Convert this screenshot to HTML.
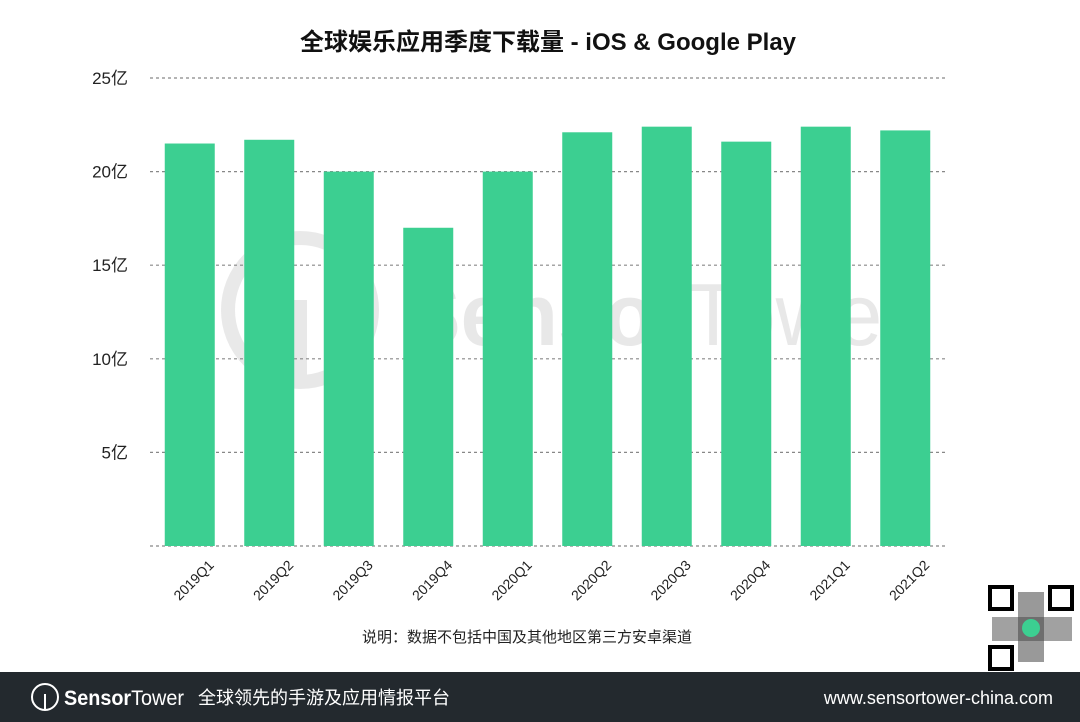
<!DOCTYPE html>
<html><head><meta charset="utf-8"><style>
body{margin:0;width:1080px;height:722px;background:#fff;overflow:hidden;font-family:"Liberation Sans","Noto Sans CJK SC",sans-serif;position:relative}
.footer{position:absolute;left:0;top:672px;width:1080px;height:50px;background:#23292e;color:#fff}
</style></head><body>
<svg width="1080" height="672" style="position:absolute;left:0;top:0">
<text x="548" y="50" text-anchor="middle" font-size="24" font-weight="bold" fill="#111" font-family="Liberation Sans,Noto Sans CJK SC,sans-serif">全球娱乐应用季度下载量 - iOS &amp; Google Play</text>
<g opacity="0.14" fill="#666">
<circle cx="300" cy="310" r="72" fill="none" stroke="#666" stroke-width="14"/>
<line x1="300" y1="300" x2="300" y2="385" stroke="#666" stroke-width="14"/>
<text x="405" y="345" font-size="88" font-weight="bold" font-family="Liberation Sans,sans-serif" textLength="505" lengthAdjust="spacingAndGlyphs">Sensor<tspan font-weight="normal">Tower</tspan></text>
</g>
<g id="grid"></g><g id="bars"></g><g id="labels"></g>
<text x="527" y="642" text-anchor="middle" font-size="15" fill="#222" font-family="Liberation Sans,Noto Sans CJK SC,sans-serif">说明：数据不包括中国及其他地区第三方安卓渠道</text>
<g>
<rect x="988" y="585" width="86" height="86" fill="#fff"/>
<rect x="990" y="587" width="22" height="22" fill="none" stroke="#000" stroke-width="4"/>
<rect x="1050" y="587" width="22" height="22" fill="none" stroke="#000" stroke-width="4"/>
<rect x="990" y="647" width="22" height="22" fill="none" stroke="#000" stroke-width="4"/>
<rect x="1018" y="592" width="26" height="70" fill="#555" opacity="0.6"/>
<rect x="992" y="617" width="80" height="24" fill="#444" opacity="0.5"/>
<circle cx="1031" cy="628" r="9" fill="#3ccf91"/>
</g>
</svg>
<div class="footer">
<svg width="1080" height="50" style="position:absolute;left:0;top:0">
<circle cx="45" cy="25" r="13" fill="none" stroke="#fff" stroke-width="2"/>
<line x1="45" y1="22" x2="45" y2="37" stroke="#fff" stroke-width="2"/>
<text x="64" y="33" font-size="21" fill="#fff" font-weight="bold" font-family="Liberation Sans,sans-serif" textLength="120" lengthAdjust="spacingAndGlyphs">Sensor<tspan font-weight="normal">Tower</tspan></text>
<text x="198" y="32" font-size="18" fill="#fff" font-family="Liberation Sans,Noto Sans CJK SC,sans-serif">全球领先的手游及应用情报平台</text>
<text x="1053" y="32" text-anchor="end" font-size="18" fill="#fff" font-family="Liberation Sans,sans-serif">www.sensortower-china.com</text>
</svg></div>
<script>
const categories=["2019Q1","2019Q2","2019Q3","2019Q4","2020Q1","2020Q2","2020Q3","2020Q4","2021Q1","2021Q2"];
const downloads=[21.5,21.7,20.0,17.0,20.0,22.1,22.4,21.6,22.4,22.2];
const yTicks=[0,5,10,15,20,25];
const yTickLabels=["","5亿","10亿","15亿","20亿","25亿"];
const NS="http://www.w3.org/2000/svg";
const x0=150,x1=945,y0=546,yTop=78,yMax=25;
const y=v=>y0-(y0-yTop)*v/yMax;
const step=(x1-x0)/categories.length, bw=50;
const xc=i=>x0+step*(i+0.5);
function mk(t,a,p){const e=document.createElementNS(NS,t);for(const k in a)e.setAttribute(k,a[k]);p.appendChild(e);return e;}
const grid=document.getElementById('grid'),bars=document.getElementById('bars'),labels=document.getElementById('labels');
yTicks.forEach((t,i)=>{
 const l=mk('line',{x1:x0,x2:x1,y1:y(t),y2:y(t),stroke:'#888','stroke-width':1.2,'stroke-dasharray':'3,3'},grid);
 
 
 if(yTickLabels[i]){const tx=mk('text',{x:128,y:y(t)+6,'text-anchor':'end','font-size':17,fill:'#222','font-family':'Liberation Sans,Noto Sans CJK SC,sans-serif'},grid);tx.textContent=yTickLabels[i];
 
 }
});
categories.forEach((c,i)=>{
 const r=mk('rect',{x:xc(i)-bw/2,y:y(downloads[i]),width:bw,height:y0-y(downloads[i]),fill:'#3ccf91'},bars);
 
 
 const t=mk('text',{x:xc(i)+25,y:566,'text-anchor':'end','font-size':14,fill:'#222',transform:`rotate(-45 ${xc(i)+25} 566)`},labels);
 t.textContent=c;
 
 
});
</script>
</body></html>
